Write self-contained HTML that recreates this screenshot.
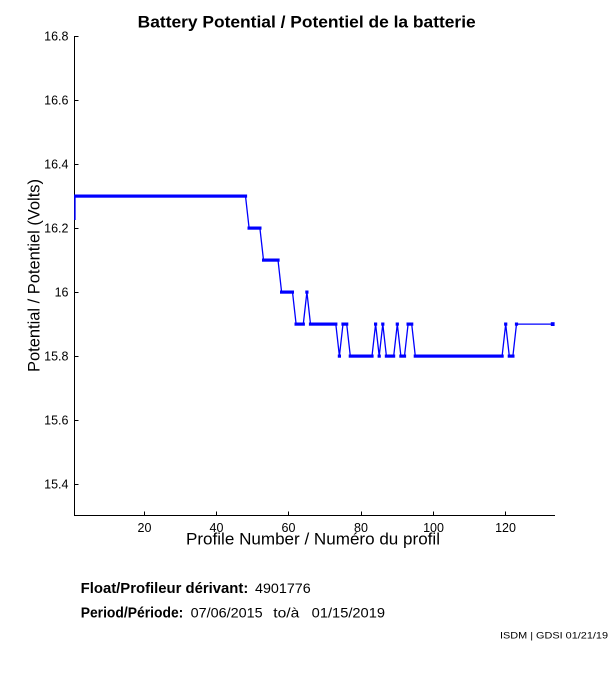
<!DOCTYPE html>
<html>
<head>
<meta charset="utf-8">
<style>
html,body{margin:0;padding:0;background:#fff;}
svg{display:block;}
text{font-family:"Liberation Sans",Arial,sans-serif;fill:#000;}
</style>
</head>
<body>
<svg width="611" height="675" viewBox="0 0 611 675" xmlns="http://www.w3.org/2000/svg">
<rect x="0" y="0" width="611" height="675" fill="#fff"/>

<!-- Title -->
<text x="137.7" y="27.3" font-size="17" font-weight="bold" textLength="338" lengthAdjust="spacingAndGlyphs">Battery Potential / Potentiel de la batterie</text>

<!-- Axes -->
<g stroke="#000" stroke-width="1" fill="none" shape-rendering="crispEdges">
  <line x1="74.5" y1="36" x2="74.5" y2="516"/>
  <line x1="74" y1="515.5" x2="555" y2="515.5"/>
  <!-- y ticks -->
  <line x1="74.5" y1="36.5" x2="78.5" y2="36.5"/>
  <line x1="74.5" y1="100.5" x2="78.5" y2="100.5"/>
  <line x1="74.5" y1="164.5" x2="78.5" y2="164.5"/>
  <line x1="74.5" y1="228.5" x2="78.5" y2="228.5"/>
  <line x1="74.5" y1="292.5" x2="78.5" y2="292.5"/>
  <line x1="74.5" y1="356.5" x2="78.5" y2="356.5"/>
  <line x1="74.5" y1="420.5" x2="78.5" y2="420.5"/>
  <line x1="74.5" y1="484.5" x2="78.5" y2="484.5"/>
  <!-- x ticks -->
  <line x1="144.5" y1="511.5" x2="144.5" y2="515.5"/>
  <line x1="216.5" y1="511.5" x2="216.5" y2="515.5"/>
  <line x1="288.5" y1="511.5" x2="288.5" y2="515.5"/>
  <line x1="361.5" y1="511.5" x2="361.5" y2="515.5"/>
  <line x1="433.5" y1="511.5" x2="433.5" y2="515.5"/>
  <line x1="505.5" y1="511.5" x2="505.5" y2="515.5"/>
</g>

<!-- y tick labels -->
<g font-size="12.5" text-anchor="end">
  <text x="68.5" y="40.5">16.8</text>
  <text x="68.5" y="104.5">16.6</text>
  <text x="68.5" y="168.5">16.4</text>
  <text x="68.5" y="232.5">16.2</text>
  <text x="68.5" y="296.5">16</text>
  <text x="68.5" y="360.5">15.8</text>
  <text x="68.5" y="424.5">15.6</text>
  <text x="68.5" y="488.5">15.4</text>
</g>

<!-- x tick labels -->
<g font-size="12.5" text-anchor="middle">
  <text x="144.5" y="532">20</text>
  <text x="216.5" y="532">40</text>
  <text x="288.5" y="532">60</text>
  <text x="361" y="532">80</text>
  <text x="433.5" y="532">100</text>
  <text x="505.5" y="532">120</text>
</g>

<!-- axis labels -->
<text x="186" y="544.5" font-size="17" textLength="254" lengthAdjust="spacingAndGlyphs">Profile Number / Numéro du profil</text>
<text transform="translate(39.5,372) rotate(-90)" x="0" y="0" font-size="17" textLength="193" lengthAdjust="spacingAndGlyphs">Potential / Potentiel (Volts)</text>

<!-- data -->
<g fill="#0000ff">
  <rect x="74" y="194.5" width="173.1" height="3.2"/>
  <rect x="247.5" y="226.5" width="14" height="3.2"/>
  <rect x="262" y="258.5" width="17.6" height="3.2"/>
  <rect x="280" y="290.5" width="14" height="3.2"/>
  <rect x="294.5" y="322.5" width="10.4" height="3.2"/>
  <rect x="305.3" y="290.5" width="3.2" height="3.2"/>
  <rect x="308.9" y="322.5" width="28.5" height="3.2"/>
  <rect x="337.8" y="354.5" width="3.2" height="3.2"/>
  <rect x="341.4" y="322.5" width="6.9" height="3.2"/>
  <rect x="348.7" y="354.5" width="24.9" height="3.2"/>
  <rect x="374" y="322.5" width="3.2" height="3.2"/>
  <rect x="377.6" y="354.5" width="3.2" height="3.2"/>
  <rect x="381.2" y="322.5" width="3.2" height="3.2"/>
  <rect x="384.8" y="354.5" width="10.4" height="3.2"/>
  <rect x="395.7" y="322.5" width="3.2" height="3.2"/>
  <rect x="399.3" y="354.5" width="6.8" height="3.2"/>
  <rect x="406.5" y="322.5" width="6.8" height="3.2"/>
  <rect x="413.7" y="354.5" width="90" height="3.2"/>
  <rect x="504.1" y="322.5" width="3.2" height="3.2"/>
  <rect x="507.7" y="354.5" width="6.8" height="3.2"/>
  <rect x="514.9" y="322.5" width="3.2" height="3.2"/>
  <rect x="550.8" y="322.2" width="3.8" height="3.8"/>
</g>
<polyline fill="none" stroke="#0000ff" stroke-width="1.3" stroke-linejoin="round"
 points="75.6,196.1 245.5,196.1 249.1,228.1 259.9,228.1 263.5,260.1 278,260.1 281.6,292.1 292.5,292.1 296.1,324.1 303.3,324.1 306.9,292.1 310.5,324.1 335.8,324.1 339.4,356.1 343,324.1 346.7,324.1 350.3,356.1 372,356.1 375.6,324.1 379.2,356.1 382.8,324.1 386.4,356.1 393.7,356.1 397.3,324.1 400.9,356.1 404.5,356.1 408.1,324.1 411.7,324.1 415.3,356.1 502.1,356.1 505.7,324.1 509.3,356.1 512.9,356.1 516.5,324.1 552.7,324.1"/>
<line x1="74.9" y1="196" x2="74.9" y2="220" stroke="#0000ff" stroke-width="1.5"/>

<!-- info text -->
<text x="80.7" y="593" font-size="14.5" font-weight="bold" textLength="167.6" lengthAdjust="spacingAndGlyphs">Float/Profileur dérivant:</text>
<text x="255" y="593" font-size="14" textLength="55.7" lengthAdjust="spacingAndGlyphs">4901776</text>
<text x="80.7" y="617.3" font-size="14.5" font-weight="bold" textLength="102.6" lengthAdjust="spacingAndGlyphs">Period/Période:</text>
<text x="190.7" y="617.3" font-size="14" textLength="72" lengthAdjust="spacingAndGlyphs">07/06/2015</text>
<text x="273.3" y="617.3" font-size="14" textLength="26" lengthAdjust="spacingAndGlyphs">to/à</text>
<text x="311.7" y="617.3" font-size="14" textLength="73.3" lengthAdjust="spacingAndGlyphs">01/15/2019</text>

<!-- footer -->
<text x="500" y="638.5" font-size="9.5" textLength="108" lengthAdjust="spacingAndGlyphs">ISDM | GDSI 01/21/19</text>
</svg>
</body>
</html>
